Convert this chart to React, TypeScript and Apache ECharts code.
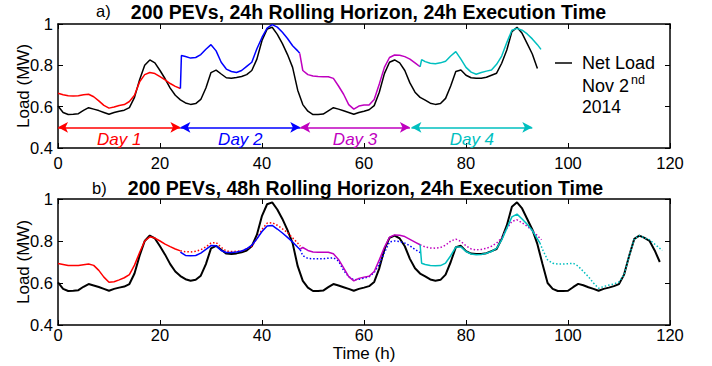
import React, { useEffect, useRef } from "react";
import * as echarts from "echarts";

// ---- Data ----
const xTicks = [0, 20, 40, 60, 80, 100, 120];
const yTicks = [0.4, 0.6, 0.8, 1];

// Net load, hourly from h0 to h118
const netLoad = [
  0.603, 0.572, 0.562, 0.563, 0.566, 0.582, 0.595, 0.588, 0.581, 0.572, 0.563, 0.572,
  0.578, 0.583, 0.595, 0.645, 0.73, 0.8, 0.826, 0.812, 0.775, 0.735, 0.69, 0.655,
  0.633, 0.618, 0.611, 0.615, 0.635, 0.69, 0.765, 0.777, 0.758, 0.74, 0.738, 0.741,
  0.746, 0.755, 0.775, 0.83, 0.92, 0.975, 0.984, 0.95, 0.905, 0.852, 0.79, 0.68,
  0.61, 0.578, 0.562, 0.562, 0.564, 0.58, 0.595, 0.588, 0.58, 0.572, 0.563, 0.572,
  0.578, 0.585, 0.605, 0.67, 0.76, 0.815, 0.826, 0.812, 0.775, 0.715, 0.67, 0.645,
  0.632, 0.617, 0.611, 0.615, 0.64, 0.7, 0.77, 0.777, 0.752, 0.74, 0.738, 0.738,
  0.742, 0.752, 0.762, 0.81, 0.874, 0.963, 0.984, 0.955, 0.905, 0.855, 0.785, 0.69,
  0.6, 0.572, 0.562, 0.562, 0.563, 0.58, 0.596, 0.589, 0.58, 0.572, 0.563, 0.572,
  0.578, 0.585, 0.595, 0.64, 0.73, 0.81, 0.826, 0.815, 0.8, 0.755, 0.7,
];
const topNetLoadEnd = 94;

// (a) 24h rolling horizon
const aDay1 = [[0,0.665],[1,0.658],[2,0.653],[3,0.652],[4,0.653],[5,0.658],[6,0.66],[7,0.648],[8,0.628],[9,0.606],[10,0.593],[11,0.598],[12,0.606],[13,0.61],[14,0.625],[15,0.655],[16,0.72],[17,0.755],[18,0.765],[19,0.76],[20,0.745],[21,0.73],[22,0.712],[23,0.698],[24,0.688]];
const aDay2 = [[24,0.688],[24.2,0.848],[25,0.843],[26,0.835],[27,0.838],[28,0.852],[29,0.878],[30,0.9],[31,0.87],[32,0.815],[33,0.782],[34,0.77],[35,0.765],[36,0.775],[37,0.795],[38,0.815],[39,0.88],[40,0.935],[41,0.98],[42,0.997],[43,0.985],[44,0.96],[45,0.93],[46,0.895],[47,0.87],[47.4,0.858]];
const aDay3 = [[47.4,0.858],[48,0.775],[49,0.755],[50,0.748],[51,0.746],[52,0.745],[53,0.745],[54,0.737],[55,0.7],[56,0.66],[57,0.61],[58,0.588],[59,0.603],[60,0.608],[61,0.608],[62,0.635],[63,0.71],[64,0.79],[65,0.838],[66,0.85],[67,0.849],[68,0.842],[69,0.83],[70,0.812],[71,0.793]];
const aDay4 = [[71,0.793],[71.3,0.828],[72,0.818],[73,0.81],[74,0.808],[75,0.812],[76,0.82],[77,0.845],[78,0.866],[79,0.83],[80,0.79],[81,0.767],[82,0.757],[83,0.765],[84,0.772],[85,0.777],[86,0.805],[87,0.845],[88,0.91],[89,0.97],[90,0.979],[91,0.97],[92,0.952],[93,0.928],[94,0.9],[94.7,0.877]];

// (b) 48h rolling horizon: executed (solid) and planned (dotted)
const bDay1 = [[0,0.693],[1,0.688],[2,0.683],[3,0.683],[4,0.683],[5,0.687],[6,0.69],[7,0.684],[8,0.66],[9,0.628],[10,0.604],[11,0.606],[12,0.615],[13,0.625],[14,0.64],[15,0.685],[16,0.745],[17,0.8],[18,0.82],[19,0.814],[20,0.8],[21,0.785],[22,0.773],[23,0.762],[24,0.753]];
const bDay1Plan = [[24,0.753],[25,0.749],[26,0.748],[27,0.751],[28,0.758],[29,0.772],[30,0.79],[31,0.793],[32,0.77],[33,0.752],[34,0.75],[35,0.751],[36,0.753],[37,0.762],[38,0.775],[39,0.81],[40,0.855],[41,0.885],[42,0.887],[43,0.875],[44,0.858],[45,0.84],[46,0.815],[47,0.79],[47.5,0.775]];
const bDay2 = [[24,0.747],[25,0.731],[26,0.73],[27,0.731],[28,0.742],[29,0.76],[30,0.778],[31,0.777],[32,0.755],[33,0.745],[34,0.745],[35,0.748],[36,0.752],[37,0.763],[38,0.78],[39,0.81],[40,0.845],[41,0.872],[42,0.874],[43,0.857],[44,0.838],[45,0.817],[46,0.795],[47,0.77],[47.5,0.758]];
const bDay2Plan = [[47.5,0.758],[48,0.73],[49,0.717],[50,0.715],[51,0.715],[52,0.715],[53,0.718],[54,0.72],[55,0.705],[56,0.66],[57,0.63],[58,0.615],[59,0.618],[60,0.623],[61,0.63],[62,0.65],[63,0.69],[64,0.745],[65,0.795],[66,0.8],[67,0.797],[68,0.79],[69,0.777],[70,0.76],[71,0.745]];
const bDay3 = [[47.5,0.762],[48,0.769],[49,0.755],[50,0.748],[51,0.747],[52,0.747],[53,0.746],[54,0.739],[55,0.712],[56,0.672],[57,0.63],[58,0.61],[59,0.622],[60,0.628],[61,0.632],[62,0.655],[63,0.71],[64,0.77],[65,0.818],[66,0.829],[67,0.827],[68,0.821],[69,0.808],[70,0.795],[71,0.782]];
const bDay3Plan = [[71,0.782],[72,0.772],[73,0.767],[74,0.766],[75,0.769],[76,0.78],[77,0.8],[78,0.809],[79,0.798],[80,0.777],[81,0.762],[82,0.758],[83,0.76],[84,0.765],[85,0.775],[86,0.79],[87,0.815],[88,0.86],[89,0.893],[90,0.901],[91,0.887],[92,0.87],[93,0.85],[94,0.825],[94.8,0.806]];
const bDay4 = [[71,0.782],[71.3,0.694],[72,0.688],[73,0.683],[74,0.682],[75,0.683],[76,0.695],[77,0.73],[78,0.771],[79,0.772],[80,0.75],[81,0.738],[82,0.734],[83,0.736],[84,0.742],[85,0.75],[86,0.765],[87,0.805],[88,0.86],[89,0.915],[90,0.928],[91,0.905],[92,0.88],[93,0.85],[94,0.81],[94.5,0.79]];
const bDay4Plan = [[94.5,0.79],[95,0.76],[96,0.71],[97,0.694],[98,0.69],[99,0.69],[100,0.692],[101,0.694],[102,0.68],[103,0.655],[104,0.63],[105,0.6],[106,0.575],[107,0.583],[108,0.59],[109,0.595],[110,0.605],[111,0.64],[112,0.73],[113,0.81],[114,0.826],[115,0.815],[116,0.806],[117,0.785],[118,0.765],[118.5,0.755]];

// Day arrows in panel (a)
const dayNames = ["Day 1", "Day 2", "Day 3", "Day 4"];
const dayStart = [0, 24, 47.5, 69.3];
const dayEnd = [24, 47.5, 69, 93];
const arrowLevel = 0.5;

const titleA = "200 PEVs, 24h Rolling Horizon, 24h Execution Time";
const titleB = "200 PEVs, 48h Rolling Horizon, 24h Execution Time";

// ---- Styling ----
const FONT = '"Liberation Sans", Arial, Helvetica, sans-serif';
const RED = "#ff0000";
const BLUE = "#0000ff";
const MAG = "#bf00bf";
const CYAN = "#00bfbf";
const dayColors = [RED, BLUE, MAG, CYAN];

export default function App() {
  const ref = useRef<HTMLDivElement>(null);

  useEffect(() => {
    if (!ref.current) return;
    const chart = echarts.init(ref.current, undefined, { renderer: "svg" });

    const grids = [
      { left: 58, top: 24, width: 612, height: 124, outerBoundsMode: "none", containLabel: false },
      { left: 58, top: 199, width: 612, height: 126, outerBoundsMode: "none", containLabel: false },
    ];

    const xAxes: any[] = [];
    const yAxes: any[] = [];
    grids.forEach((_, g) => {
      const bottomMargin = g === 0 ? 6 : 1.5;
      xAxes.push({
        type: "value", gridIndex: g, position: "bottom", min: xTicks[0], max: xTicks[xTicks.length - 1], interval: 20,
        axisLine: { show: true, onZero: false, lineStyle: { color: "#000", width: 1.5 } },
        axisTick: { show: true, inside: true, length: 5, lineStyle: { color: "#000", width: 1 } },
        axisLabel: { show: true, color: "#000", fontSize: 16.5, fontFamily: FONT, margin: bottomMargin },
        splitLine: { show: false },
        name: g === 1 ? "Time (h)" : "",
        nameLocation: "middle", nameGap: 19.5, nameMoveOverlap: false,
        nameTextStyle: { color: "#000", fontSize: 17, fontFamily: FONT },
      });
      xAxes.push({
        type: "value", gridIndex: g, position: "top", min: xTicks[0], max: xTicks[xTicks.length - 1], interval: 20,
        axisLine: { show: true, onZero: false, lineStyle: { color: "#000", width: 1.5 } },
        axisTick: { show: true, inside: true, length: 5, lineStyle: { color: "#000", width: 1 } },
        axisLabel: { show: false },
        splitLine: { show: false },
      });
      yAxes.push({
        type: "value", gridIndex: g, position: "left", min: yTicks[0], max: yTicks[yTicks.length - 1], interval: 0.2,
        axisLine: { show: true, onZero: false, lineStyle: { color: "#000", width: 1.5 } },
        axisTick: { show: true, inside: true, length: 5, lineStyle: { color: "#000", width: 1 } },
        axisLabel: { show: true, color: "#000", fontSize: 16.5, fontFamily: FONT, margin: 5 },
        splitLine: { show: false },
        name: "Load (MW)", nameLocation: "middle", nameGap: 26, nameMoveOverlap: false,
        nameTextStyle: { color: "#000", fontSize: 17, fontFamily: FONT },
      });
      yAxes.push({
        type: "value", gridIndex: g, position: "right", min: yTicks[0], max: yTicks[yTicks.length - 1], interval: 0.2,
        axisLine: { show: true, onZero: false, lineStyle: { color: "#000", width: 1.5 } },
        axisTick: { show: true, inside: true, length: 5, lineStyle: { color: "#000", width: 1 } },
        axisLabel: { show: false },
        splitLine: { show: false },
      });
    });

    const line = (name: string, data: any, g: number, color: string, width: number, dotted = false, extra: any = {}) => ({
      type: "line", name, data, xAxisIndex: g * 2, yAxisIndex: g * 2,
      showSymbol: false, symbol: "none", smooth: false, clip: false,
      lineStyle: { color, width, type: dotted ? [1.5, 2] : "solid" },
      itemStyle: { color },
      emphasis: { disabled: true },
      ...extra,
    });

    const topDays = [aDay1, aDay2, aDay3, aDay4];
    const topSeries = topDays.map((d, i) =>
      line(dayNames[i], d, 0, dayColors[i], 1.5, false, {
        markLine: {
          silent: true,
          symbol: ["arrow", "arrow"],
          symbolSize: [8, 10],
          lineStyle: { color: dayColors[i], width: 1.5, type: "solid" },
          label: {
            show: true, position: "insideMiddleBottom", formatter: dayNames[i],
            color: dayColors[i], fontStyle: "italic", fontSize: 17, fontFamily: FONT, distance: 4,
          },
          data: [[{ coord: [dayStart[i], arrowLevel] }, { coord: [dayEnd[i], arrowLevel] }]],
        },
      })
    );

    const netTop = netLoad.slice(0, topNetLoadEnd + 1).map((v, i) => [i, v]);
    const netAll = netLoad.map((v, i) => [i, v]);

    const series: any[] = [
      line("Net Load", netTop, 0, "#000", 1.5),
      ...topSeries,
      line("Net Load", netAll, 1, "#000", 2),
      line("b1p", bDay1Plan, 1, RED, 1.5, true),
      line("b2p", bDay2Plan, 1, BLUE, 1.5, true),
      line("b3p", bDay3Plan, 1, MAG, 1.5, true),
      line("b4p", bDay4Plan, 1, CYAN, 1.5, true),
      line("b1", bDay1, 1, RED, 1.5),
      line("b2", bDay2, 1, BLUE, 1.5),
      line("b3", bDay3, 1, MAG, 1.5),
      line("b4", bDay4, 1, CYAN, 1.5),
    ];

    const txt = (text: string, x: number, y: number, font: string, align = "left", fill = "#000") => ({
      type: "text", x, y, silent: true,
      style: { text, font, fill, textAlign: align, textVerticalAlign: "middle", align, verticalAlign: "middle" },
    });

    chart.setOption({
      animation: false,
      backgroundColor: "#fff",
      textStyle: { fontFamily: FONT },
      grid: grids,
      xAxis: xAxes,
      yAxis: yAxes,
      legend: {
        data: [{ name: "Net Load", icon: "rect", itemStyle: { color: "#000" } }],
        left: 555, top: 54, padding: 0,
        itemWidth: 17, itemHeight: 1.5,
        selectedMode: false,
        textStyle: { color: "#000", fontSize: 18, fontFamily: FONT, padding: [0, 0, 0, 5] },
      },
      graphic: [
        txt("a)", 96, 11, `16.5px ${FONT}`),
        txt(titleA, 368.5, 11.5, `bold 19.5px ${FONT}`, "center"),
        txt("b)", 92, 187.5, `16.5px ${FONT}`),
        txt(titleB, 365.5, 187.5, `bold 19.5px ${FONT}`, "center"),
        txt("Nov 2", 582, 86, `18px ${FONT}`),
        txt("nd", 631, 79.5, `12.5px ${FONT}`),
        txt("2014", 582, 106.5, `17.5px ${FONT}`),
      ],
      series,
    });

    return () => chart.dispose();
  }, []);

  return (
    <div
      ref={ref}
      style={{ position: "fixed", left: 0, top: 0, width: 712, height: 366, background: "#fff" }}
    />
  );
}
